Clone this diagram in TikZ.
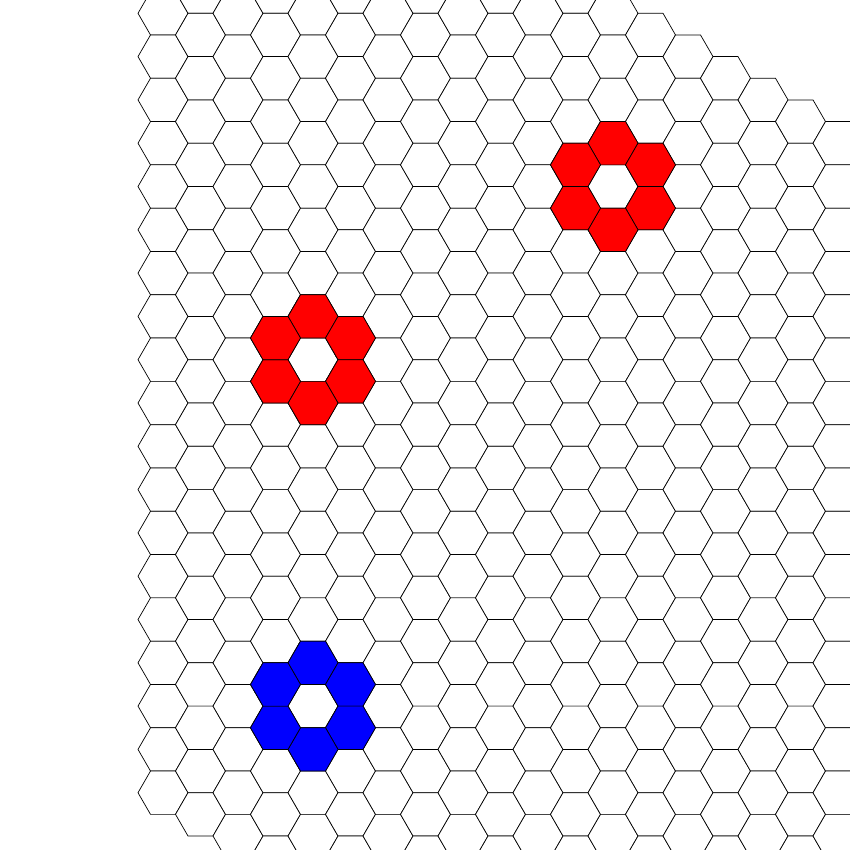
\documentclass[tikz,border=0pt]{standalone}
\usepackage{xcolor}
\usepackage{tikz}
\tikzset{
  caseVide/.style={draw=black, fill=white, line width=0.4pt},
  caseRouge/.style={caseVide, fill=red},
  caseBleue/.style={caseVide, fill=blue}
}
% une case hexagonale (colonne, rangee) du plateau
\newcommand{\caseHex}[3]{%
  \pgfmathsetmacro\cx{3.26+0.75*#1}%
  \pgfmathsetmacro\cy{4.93-0.433*#1-0.866*#2}%
  \draw[#3] (\cx,\cy) +(0:0.5) -- +(60:0.5) -- +(120:0.5)
        -- +(180:0.5) -- +(240:0.5) -- +(300:0.5) -- cycle;}

\begin{document}
\begin{tikzpicture}

  \useasboundingbox (0,0) rectangle (17,-17);
  \clip (0,0) rectangle (17,-17);

  % --- Plateau : losange de cases vides
  \foreach \i in {0,...,24}{
    \foreach \t in {0,...,24}{
      \caseHex{\i}{\t}{caseVide}
    }
  }

  % --- Anneaux rouges
  \foreach \i/\t in {12/3, 13/3, 13/4, 12/5, 11/5, 11/4,
                     4/11, 5/11, 5/12, 4/13, 3/13, 3/12}{
    \caseHex{\i}{\t}{caseRouge}
  }

  % --- Anneau bleu
  \foreach \i/\t in {4/19, 5/19, 5/20, 4/21, 3/21, 3/20}{
    \caseHex{\i}{\t}{caseBleue}
  }

\end{tikzpicture}
\end{document}
